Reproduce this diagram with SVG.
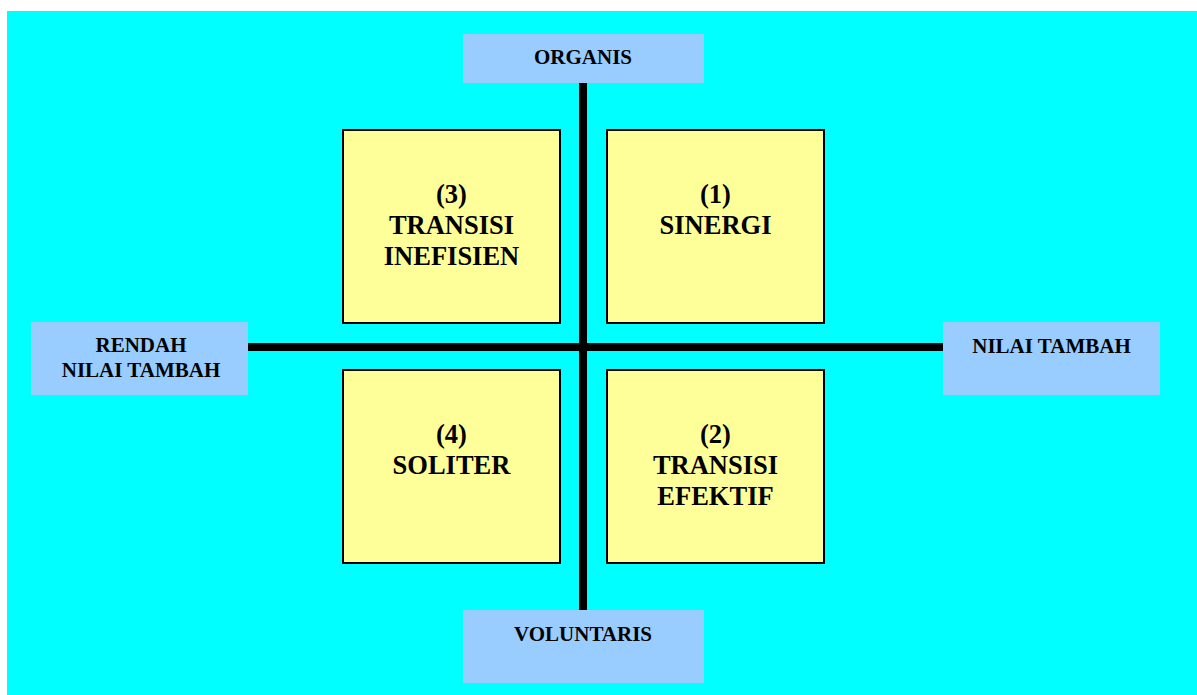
<svg xmlns="http://www.w3.org/2000/svg" width="1197" height="695" viewBox="0 0 1197 695">
  <style>
    .label { fill: #99CCFF; }
    .quad { fill: #FFFF99; stroke: #000000; stroke-width: 2; }
    .axis { stroke: #000000; stroke-width: 8; }
    text { font-family: "Liberation Serif", "Times New Roman", serif; font-weight: bold; fill: #000000; text-anchor: middle; }
    .t-small { font-size: 21px; }
    .t-big { font-size: 26.5px; }
  </style>

  <!-- background -->
  <rect x="7" y="11" width="1190" height="684" fill="#00FFFF"/>

  <!-- axes -->
  <g id="connectors">
    <line class="axis" x1="583" y1="83" x2="583" y2="610"/>
    <line class="axis" x1="248" y1="347" x2="943" y2="347"/>
  </g>

  <!-- axis labels -->
  <g id="organis">
    <rect class="label" x="463" y="34" width="241" height="49"/>
    <text class="t-small" x="583" y="64">ORGANIS</text>
  </g>
  <g id="voluntaris">
    <rect class="label" x="463" y="610" width="241" height="73"/>
    <text class="t-small" x="583" y="641">VOLUNTARIS</text>
  </g>
  <g id="rendah-nilai-tambah">
    <rect class="label" x="31" y="322" width="217" height="73"/>
    <text class="t-small" x="141" y="352">RENDAH</text>
    <text class="t-small" x="141" y="377">NILAI TAMBAH</text>
  </g>
  <g id="nilai-tambah">
    <rect class="label" x="943" y="322" width="217" height="73"/>
    <text class="t-small" x="1051.5" y="353">NILAI TAMBAH</text>
  </g>

  <!-- quadrants -->
  <g id="q3-transisi-inefisien">
    <rect class="quad" x="343" y="130" width="217" height="193"/>
    <text class="t-big" x="451.5" y="203">(3)</text>
    <text class="t-big" x="451.5" y="234">TRANSISI</text>
    <text class="t-big" x="451.5" y="265">INEFISIEN</text>
  </g>
  <g id="q1-sinergi">
    <rect class="quad" x="607" y="130" width="217" height="193"/>
    <text class="t-big" x="715.5" y="203">(1)</text>
    <text class="t-big" x="715.5" y="234">SINERGI</text>
  </g>
  <g id="q4-soliter">
    <rect class="quad" x="343" y="370" width="217" height="193"/>
    <text class="t-big" x="451.5" y="443">(4)</text>
    <text class="t-big" x="451.5" y="474">SOLITER</text>
  </g>
  <g id="q2-transisi-efektif">
    <rect class="quad" x="607" y="370" width="217" height="193"/>
    <text class="t-big" x="715.5" y="443">(2)</text>
    <text class="t-big" x="715.5" y="474">TRANSISI</text>
    <text class="t-big" x="715.5" y="505">EFEKTIF</text>
  </g>
</svg>
